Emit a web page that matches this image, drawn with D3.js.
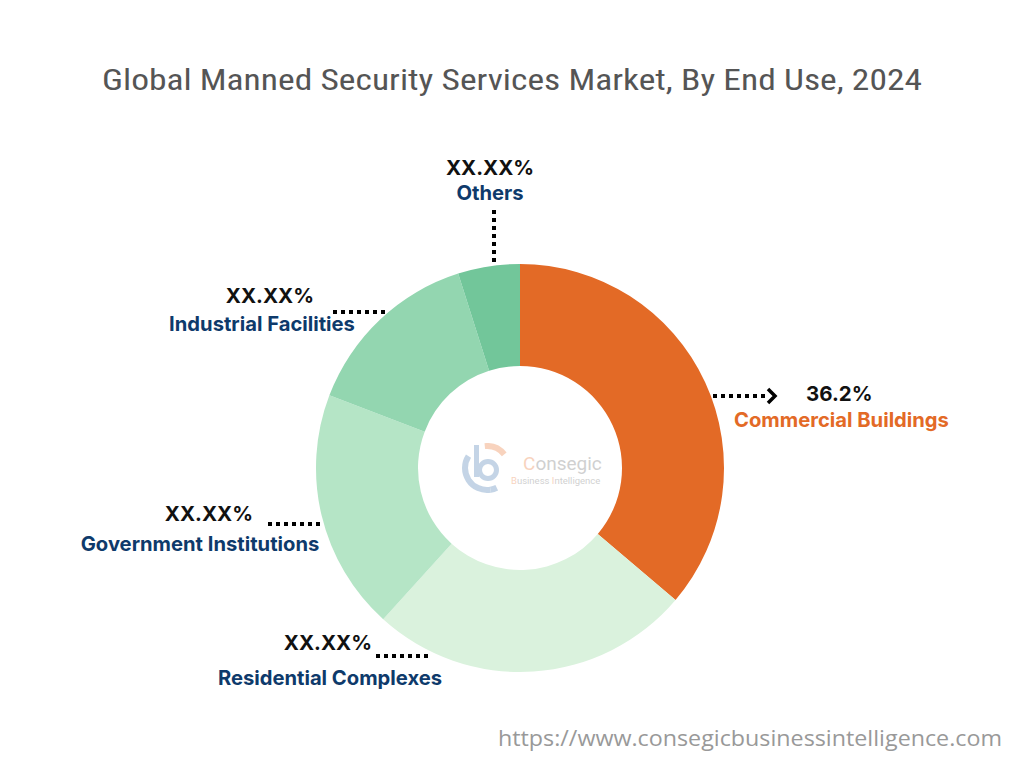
<!DOCTYPE html>
<html><head><meta charset="utf-8">
<script src="https://cdn.jsdelivr.net/npm/d3@7"></script>
<style>body{margin:0;background:#fff}svg{display:block}</style>
</head><body>
<svg id="c" width="1024" height="768"></svg>
<script>
const categories = ["Commercial Buildings","Residential Complexes","Government Institutions","Industrial Facilities","Others"];
const values = [36.2, 25.5, 19.1, 14.3, 4.9];
const valueLabels = ["36.2%","XX.XX%","XX.XX%","XX.XX%","XX.XX%"];
const colors = ["#E36A26","#DAF2DD","#B5E5C6","#93D6B0","#72C69A"];

const svg = d3.select("#c");
svg.append("text").attr("x",512).attr("y",90).attr("text-anchor","middle")
  .attr("font-family","Liberation Sans Narrow, Roboto Condensed, Roboto, sans-serif").attr("font-size",30)
  .attr("fill","#555").attr("textLength",820).attr("lengthAdjust","spacingAndGlyphs")
  .text("Global Manned Security Services Market, By End Use, 2024");

const cx=520, cy=468, R=204, r=102;
const g = svg.append("g").attr("transform",`translate(${cx},${cy})`);
const pie = d3.pie().sort(null).value(d=>d)(values);
const arc = d3.arc().innerRadius(r).outerRadius(R);
g.selectAll("path").data(pie).join("path").attr("d",arc).attr("fill",(d,i)=>colors[i]);

// logo
const lg = svg.append("g").attr("opacity",0.45);
const li = d3.arc();
lg.append("path").attr("transform","translate(487,468)")
  .attr("d",li({innerRadius:19,outerRadius:25,startAngle:-3.3,endAngle:-1.0}))
  .attr("fill","#7da2c8");
lg.append("path").attr("transform","translate(487,468)")
  .attr("d",li({innerRadius:19,outerRadius:25,startAngle:-0.1,endAngle:0.9}))
  .attr("fill","#f0a070");
lg.append("path").attr("transform","translate(487,468)")
  .attr("d",li({innerRadius:19,outerRadius:25,startAngle:-3.6,endAngle:-3.3}))
  .attr("fill","#7da2c8");
lg.append("rect").attr("x",474).attr("y",445).attr("width",5).attr("height",32).attr("fill","#7da2c8");
lg.append("path").attr("transform","translate(488,470)")
  .attr("d",li({innerRadius:6,outerRadius:11,startAngle:0,endAngle:2*Math.PI})).attr("fill","#7da2c8");
lg.append("text").attr("x",523).attr("y",470).attr("font-family","Roboto, sans-serif")
  .attr("font-size",19).attr("fill","#999").html('<tspan fill="#f0a070">C</tspan>onsegic');
lg.append("text").attr("x",511).attr("y",484).attr("font-family","Roboto, sans-serif")
  .attr("font-size",9.5).attr("fill","#999").html('<tspan fill="#f0a070">B</tspan>usiness <tspan fill="#f0a070">I</tspan>ntelligence');

// labels
const labelPos = [
  {vx:806, vy:401, va:"start", nx:734, ny:427, na:"start", nc:"#E36A26", line:[[713,396],[766,396]], arrow:true},
  {vx:372, vy:650, va:"end", nx:330, ny:685, na:"middle", nc:"#0E3A6B", line:[[376,656],[430,656]]},
  {vx:253, vy:521, va:"end", nx:200, ny:551, na:"middle", nc:"#0E3A6B", line:[[268,524],[322,524]]},
  {vx:314, vy:303, va:"end", nx:262, ny:331, na:"middle", nc:"#0E3A6B", line:[[333,312],[386,312]]},
  {vx:490, vy:175, va:"middle", nx:490, ny:200, na:"middle", nc:"#0E3A6B", line:[[494,210],[494,264]]}
];
const lab = svg.append("g");
categories.forEach((c,i)=>{
  const p = labelPos[i];
  lab.append("line").attr("x1",p.line[0][0]).attr("y1",p.line[0][1]).attr("x2",p.line[1][0]).attr("y2",p.line[1][1])
    .attr("stroke","#000").attr("stroke-width",4).attr("stroke-dasharray","4,4");
  if(p.arrow){
    lab.append("path").attr("d",`M${p.line[1][0]+2},${p.line[1][1]-7} L${p.line[1][0]+9},${p.line[1][1]} L${p.line[1][0]+2},${p.line[1][1]+7}`)
      .attr("fill","none").attr("stroke","#000").attr("stroke-width",3.5);
  }
  lab.append("text").attr("x",p.vx).attr("y",p.vy).attr("text-anchor",p.va)
    .attr("font-family","Inter, Roboto, sans-serif").attr("font-weight","bold").attr("font-size",20.5)
    .attr("fill","#111").text(valueLabels[i]);
  lab.append("text").attr("x",p.nx).attr("y",p.ny).attr("text-anchor",p.na)
    .attr("font-family","Inter, Roboto, sans-serif").attr("font-weight","bold").attr("font-size",20.2)
    .attr("fill",p.nc).text(c);
});

svg.append("text").attr("x",1002).attr("y",746).attr("text-anchor","end")
  .attr("font-family","Open Sans, Roboto, sans-serif").attr("font-size",22).attr("fill","#999")
  .attr("textLength",504).attr("lengthAdjust","spacingAndGlyphs")
  .text("https://www.consegicbusinessintelligence.com");
</script>
</body></html>
